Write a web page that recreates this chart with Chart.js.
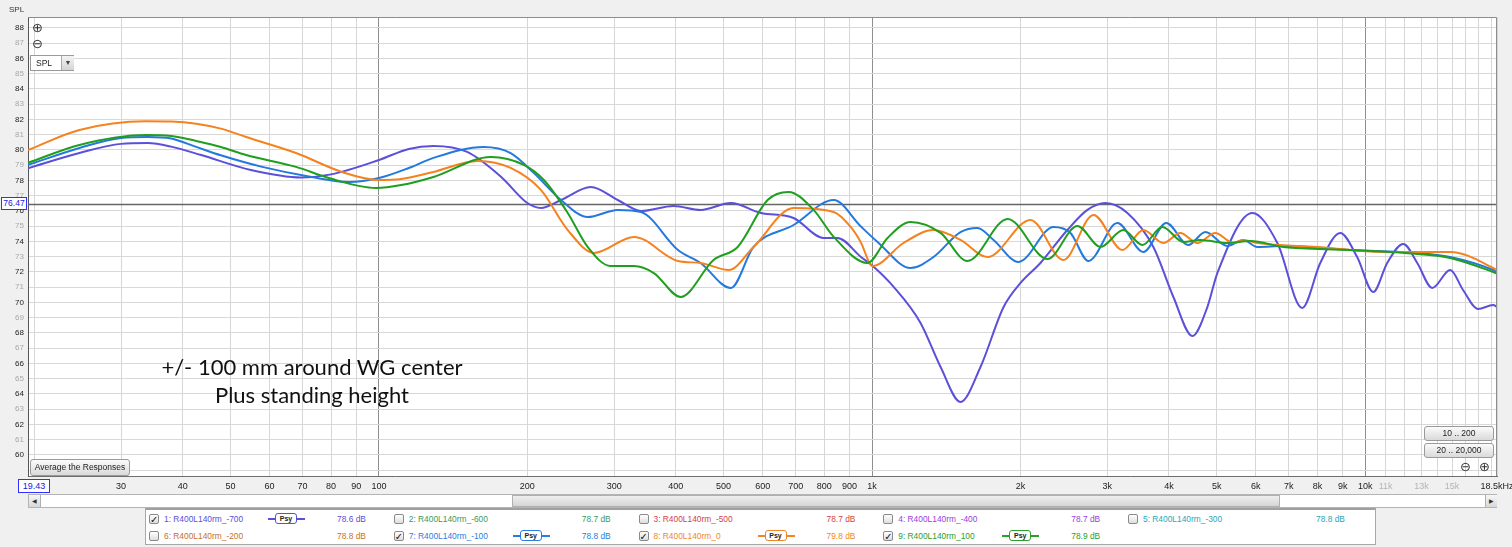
<!DOCTYPE html>
<html>
<head>
<meta charset="utf-8">
<script src="https://cdn.jsdelivr.net/npm/chart.js@4.4.1/dist/chart.umd.min.js"></script>
<style>
  html, body { margin: 0; padding: 0; background: #f0f0f0; }
  #wrap { position: relative; width: 1512px; height: 547px; overflow: hidden;
          font-family: "Liberation Sans", Arial, sans-serif; }
  #chart { position: absolute; left: 0; top: 0; }
  .abs { position: absolute; white-space: nowrap; }
  .btn { position: absolute; box-sizing: border-box; border: 1px solid #9a9a9a; border-radius: 3px;
         background: linear-gradient(#fbfbfb, #dadada); color: #222; font-size: 8.5px;
         text-align: center; }
  .icon { position: absolute; font-family: "DejaVu Sans", sans-serif; font-size: 13px; color: #333; line-height: 12px; }
  .valbox { position: absolute; box-sizing: border-box; border: 1px solid #3030ff; background: #fff;
            color: #2020e0; font-size: 8.5px; text-align: center; }
  .note { position: absolute; width: 340px; text-align: center; font-family: Lato, "Open Sans", sans-serif;
          font-size: 22px; color: #111; }
  #legend { position: absolute; left: 145px; top: 508px; width: 1231px; height: 37px; box-sizing: border-box;
            background: #fff; border: 1px solid #a8a8a8; border-top: 2px solid #a0a0a0; }
  .chk { position: absolute; width: 10px; height: 10px; box-sizing: border-box; border: 1px solid #8a8a8a;
         border-radius: 2px; background: linear-gradient(#ffffff, #dedede); font-size: 10px; line-height: 9px;
         text-align: center; color: #111; font-family: "DejaVu Sans", sans-serif; }
  .lt { position: absolute; font-size: 8.4px; line-height: 10px; }
  .psy { position: absolute; height: 11px; width: 37px; }
  .psy .ln { position: absolute; left: 0; right: 0; top: 5px; height: 1.5px; }
  .psy .bx { position: absolute; left: 7px; width: 20px; top: 0; height: 9px; border: 1.5px solid; border-radius: 3px;
             background: #fff; font-size: 7px; line-height: 9px; text-align: center; color: #222; font-weight: bold; }
</style>
</head>
<body>
<div id="wrap">
  <canvas id="chart" width="1512" height="547"></canvas>

  <div class="abs" style="left:9px; top:5px; font-size:8px; color:#333;">SPL</div>
  <div class="icon" style="left:32px; top:22px;">⊕</div>
  <div class="icon" style="left:32px; top:38px;">⊖</div>
  <div class="abs" style="left:30px; top:55px; width:44px; height:16px; box-sizing:border-box; border:1px solid #9a9a9a; background:#fff;">
    <div class="abs" style="left:5px; top:2px; font-size:8.5px; color:#222;">SPL</div>
    <div class="abs" style="left:30px; top:0; width:12px; height:14px; background:linear-gradient(#f4f4f4,#d4d4d4); border-left:1px solid #aaa; font-size:7px; text-align:center; line-height:14px; color:#444;">▼</div>
  </div>

  <div class="valbox" style="left:1px; top:197px; width:26px; height:13px; line-height:11px;">76.47</div>
  <div class="valbox" style="left:18px; top:479px; width:32px; height:14px; line-height:12px; font-size:9px;">19.43</div>

  <div class="note" style="left:142px; top:353px;">+/- 100 mm around WG center</div>
  <div class="note" style="left:142px; top:381px;">Plus standing height</div>

  <div class="btn" style="left:30px; top:459px; width:100px; height:17px; line-height:15px;">Average the Responses</div>
  <div class="btn" style="left:1424px; top:426px; width:70px; height:15px; line-height:13px;">10 .. 200</div>
  <div class="btn" style="left:1424px; top:443px; width:70px; height:15px; line-height:13px;">20 .. 20,000</div>
  <div class="icon" style="left:1460px; top:461px;">⊖</div>
  <div class="icon" style="left:1479px; top:461px;">⊕</div>

  <div class="abs" style="left:28px; top:494px; width:1469px; height:14px; box-sizing:border-box; border:1px solid #b4b4b4; background:#fff;"></div>
  <div class="abs" style="left:29px; top:495px; width:11px; height:12px; background:linear-gradient(#f6f6f6,#d8d8d8); border-right:1px solid #b0b0b0; font-size:6px; line-height:12px; text-align:center; color:#333;">◀</div>
  <div class="abs" style="left:512px; top:495px; width:768px; height:12px; box-sizing:border-box; background:linear-gradient(#eeeeee,#d6d6d6); border:1px solid #b0b0b0;"></div>
  <div class="abs" style="left:1485px; top:495px; width:11px; height:12px; background:linear-gradient(#f6f6f6,#d8d8d8); border-left:1px solid #b0b0b0; font-size:6px; line-height:12px; text-align:center; color:#333;">▶</div>

  <div id="legend"></div>
</div>

<script>
'use strict';

// axis ranges (REW view)
const freqMin = 19.43;
const freqMax = 18500;
const splMin = 58.62;
const splMax = 88.72;
const cursorLevel = 76.47;

// x grid lines and labels
const freqGrid = [20, 30, 40, 50, 60, 70, 80, 90, 100, 200, 300, 400, 500, 600, 700, 800, 900,
  1000, 2000, 3000, 4000, 5000, 6000, 7000, 8000, 9000, 10000, 11000, 12000, 13000, 14000,
  15000, 16000, 17000, 18000, 18500];
const freqLabelValues = [30, 40, 50, 60, 70, 80, 90, 100, 200, 300, 400, 500, 600, 700, 800, 900,
  1000, 2000, 3000, 4000, 5000, 6000, 7000, 8000, 9000, 10000, 11000, 13000, 15000, 18500];
const freqLabelTexts = ['30', '40', '50', '60', '70', '80', '90', '100', '200', '300', '400', '500',
  '600', '700', '800', '900', '1k', '2k', '3k', '4k', '5k', '6k', '7k', '8k', '9k', '10k', '11k',
  '13k', '15k', '18.5kHz'];
const freqFaintLabels = [11000, 13000, 15000];
const freqDecades = [100, 1000, 10000];

// 1: R400L140rm_-700
const purpleFreq = [19.43, 24.7, 30, 34, 37.9, 43.6, 55, 69.5, 80, 100, 115, 129, 151, 177, 200, 213, 234,
  269, 305, 340, 396, 449, 517, 595, 693, 797, 851, 948, 1002, 1106, 1254, 1377, 1511, 1659, 1848,
  2000, 2195, 2489, 2733, 2973, 3294, 3719, 4083, 4462, 4785, 5013, 5902, 6634, 7452, 8106, 8897,
  9630, 10380, 11080, 11940, 12750, 13670, 14870, 15790, 16940, 18170, 18500];
const purpleSpl = [78.8, 79.8, 80.4, 80.45, 80.22, 79.67, 78.69, 78.2, 78.4, 79.34, 80.07, 80.26, 79.87,
  78.23, 76.52, 76.2, 76.72, 77.57, 76.72, 76.0, 76.33, 76.07, 76.52, 75.87, 75.54, 74.23, 74.23,
  73.0, 72.4, 71.02, 68.66, 65.77, 63.48, 65.77, 69.7, 71.28, 72.59, 74.75, 76.07, 76.52, 75.87,
  73.64, 70.36, 67.8, 69.7, 71.93, 75.87, 73.9, 69.64, 72.59, 74.56, 72.98, 70.69, 72.59, 73.84,
  72.59, 70.95, 72.13, 70.82, 69.57, 69.84, 69.7];

// 7: R400L140rm_-100
const blueFreq = [19.43, 24.7, 30, 34, 37.9, 42.6, 47.8, 58, 73, 87, 100, 115, 129, 163, 185, 206, 234, 265, 305,
  340, 404, 449, 517, 575, 693, 836, 948, 1026, 1197, 1332, 1511, 1636, 1763, 1981, 2333, 2525, 2746,
  3144, 3549, 3950, 4379, 4740, 5252, 5660, 6042, 6822, 9324, 12750, 14870, 18170, 18500];
const blueSpl = [79.02, 80.13, 80.79, 80.85, 80.75, 80.2, 79.65, 78.89, 78.23, 77.9, 78.16, 78.82, 79.48, 80.2,
  79.8, 78.5, 76.72, 75.6, 76.07, 75.93, 73.44, 72.59, 70.95, 73.64, 75.08, 76.72, 75.0, 73.97,
  72.26, 72.98, 74.62, 74.89, 74.1, 72.66, 74.95, 74.56, 72.72, 75.21, 73.31, 75.21, 73.77, 74.62,
  73.7, 74.1, 73.64, 73.7, 73.44, 73.25, 72.98, 72.13, 72.0];

// 8: R400L140rm_0
const orangeFreq = [19.43, 24.7, 33.7, 37.9, 42.6, 47.8, 53.8, 67.9, 84.1, 100, 111, 129, 158.7, 185, 213, 241.5,
  273, 329, 404, 449, 512, 575, 693, 836, 905, 948, 1002, 1158, 1332, 1511, 1714, 2095, 2443, 2811,
  3218, 3549, 3896, 4218, 4566, 4966, 5402, 5660, 6042, 7994, 10880, 14870, 18170, 18500];
const orangeSpl = [80.0, 81.31, 81.88, 81.86, 81.72, 81.4, 80.85, 79.8, 78.56, 78.03, 78.1, 78.56, 79.28, 78.82,
  77.38, 74.75, 73.25, 74.3, 72.72, 72.59, 72.13, 73.64, 76.2, 75.93, 74.95, 73.97, 72.39, 73.9,
  74.75, 74.1, 72.98, 75.41, 72.79, 75.74, 73.44, 74.75, 73.9, 74.56, 73.9, 74.56, 73.9, 74.1, 73.9,
  73.64, 73.31, 73.31, 72.26, 72.1];

// 9: R400L140rm_100
const greenFreq = [19.43, 24.7, 33.7, 37.9, 42.6, 47.8, 53.8, 67.9, 79.2, 98.6, 111, 129, 168.7, 196.7, 216,
  241.5, 265, 295, 329, 361, 409, 477, 534, 614, 677, 761, 836, 979, 1075, 1197, 1377, 1561, 1883,
  2268, 2609, 2904, 3233, 3533, 3878, 4278, 4631, 5252, 5848, 6822, 9324, 12750, 14870, 18170, 18500];
const greenSpl = [79.15, 80.33, 80.98, 80.92, 80.59, 80.2, 79.67, 78.89, 78.16, 77.51, 77.7, 78.23, 79.54, 79.02,
  78.03, 75.87, 73.64, 72.39, 72.39, 71.93, 70.36, 72.79, 73.64, 76.72, 77.25, 76.07, 74.3, 72.59,
  74.23, 75.28, 74.56, 72.72, 75.48, 72.85, 75.02, 73.64, 74.75, 73.77, 74.95, 73.97, 74.1, 73.9,
  74.03, 73.64, 73.44, 73.18, 72.92, 72.0, 71.9];

// legend panel entries
const legendNames = ['1: R400L140rm_-700', '2: R400L140rm_-600', '3: R400L140rm_-500',
  '4: R400L140rm_-400', '5: R400L140rm_-300', '6: R400L140rm_-200', '7: R400L140rm_-100',
  '8: R400L140rm_0', '9: R400L140rm_100'];
const legendLevels = ['78.6 dB', '78.7 dB', '78.7 dB', '78.7 dB', '78.8 dB', '78.8 dB', '78.8 dB',
  '79.8 dB', '78.9 dB'];
const legendColors = ['#5b4fd9', '#3a9a5a', '#d24444', '#9b3de0', '#2aa6b8', '#c8701e', '#2a7de0',
  '#f0862a', '#2aa02a'];
const legendChecked = [true, false, false, false, false, false, true, true, true];

const purple = '#5b50da';
const blue = '#2479dc';
const orange = '#f5821e';
const green = '#1f9e1f';

function toPoints(freqs, spls) {
  return freqs.map((f, i) => ({ x: f, y: spls[i] }));
}

function makeSet(label, freqs, spls, color) {
  return {
    label: label,
    data: toPoints(freqs, spls),
    borderColor: color,
    borderWidth: 2,
    pointRadius: 0,
    fill: false,
    cubicInterpolationMode: 'monotone',
  };
}

// legend panel
const legendBox = document.getElementById('legend');
legendNames.forEach((name, i) => {
  const row = i < 5 ? 0 : 1;
  const col = i < 5 ? i : i - 5;
  const left = 149 + col * 244.75 - 146;
  const top = row === 0 ? 4 : 21;
  const chk = document.createElement('div');
  chk.className = 'chk';
  chk.style.left = left + 'px';
  chk.style.top = top + 'px';
  chk.textContent = legendChecked[i] ? '✓' : '';
  legendBox.appendChild(chk);

  const txt = document.createElement('div');
  txt.className = 'lt';
  txt.style.left = (left + 15) + 'px';
  txt.style.top = top + 'px';
  txt.style.color = legendColors[i];
  txt.textContent = name;
  legendBox.appendChild(txt);

  const lvl = document.createElement('div');
  lvl.className = 'lt';
  lvl.style.left = (left + 188) + 'px';
  lvl.style.top = top + 'px';
  lvl.style.color = legendColors[i];
  lvl.textContent = legendLevels[i];
  legendBox.appendChild(lvl);

  if (legendChecked[i]) {
    const psy = document.createElement('div');
    psy.className = 'psy';
    psy.style.left = (left + 119) + 'px';
    psy.style.top = (top - 1) + 'px';
    psy.innerHTML = '<div class="ln" style="background:' + legendColors[i] + '"></div>' +
      '<div class="bx" style="border-color:' + legendColors[i] + '">Psy</div>';
    legendBox.appendChild(psy);
  }
});

// white plot area, cursor line and frame
const framePlugin = {
  id: 'frame',
  beforeDraw(chart) {
    const a = chart.chartArea;
    const ctx = chart.ctx;
    ctx.save();
    ctx.fillStyle = '#ffffff';
    ctx.fillRect(a.left, a.top, a.right - a.left, a.bottom - a.top);
    ctx.restore();
  },
  beforeDatasetsDraw(chart) {
    const a = chart.chartArea;
    const ctx = chart.ctx;
    const y = Math.round(chart.scales.y.getPixelForValue(cursorLevel)) + 0.5;
    ctx.save();
    ctx.strokeStyle = '#666666';
    ctx.lineWidth = 1.5;
    ctx.beginPath();
    ctx.moveTo(a.left, y);
    ctx.lineTo(a.right, y);
    ctx.stroke();
    ctx.restore();
  },
  afterDraw(chart) {
    const a = chart.chartArea;
    const ctx = chart.ctx;
    ctx.save();
    ctx.strokeStyle = '#8c8c8c';
    ctx.lineWidth = 1;
    ctx.beginPath();
    ctx.moveTo(a.left, a.top + 0.5);
    ctx.lineTo(a.right - 0.5, a.top + 0.5);
    ctx.lineTo(a.right - 0.5, a.bottom);
    ctx.stroke();
    ctx.restore();
  },
};

const ctx = document.getElementById('chart').getContext('2d');
new Chart(ctx, {
  type: 'line',
  data: {
    datasets: [
      makeSet('9: R400L140rm_100', greenFreq, greenSpl, green),
      makeSet('8: R400L140rm_0', orangeFreq, orangeSpl, orange),
      makeSet('7: R400L140rm_-100', blueFreq, blueSpl, blue),
      makeSet('1: R400L140rm_-700', purpleFreq, purpleSpl, purple),
    ],
  },
  options: {
    responsive: false,
    animation: false,
    devicePixelRatio: 1,
    events: [],
    layout: { padding: { left: 0, top: 17, right: 15, bottom: 51 } },
    plugins: { legend: { display: false }, tooltip: { enabled: false } },
    scales: {
      x: {
        type: 'logarithmic',
        min: freqMin,
        max: freqMax,
        afterBuildTicks: (scale) => {
          scale.ticks = freqGrid.map((v) => ({ value: v }));
        },
        afterFit: (scale) => {
          scale.height = 20;
          scale.paddingLeft = 0;
          scale.paddingRight = 0;
        },
        border: { display: true, color: '#6e6e6e', width: 1 },
        grid: {
          drawTicks: false,
          color: (c) => (freqDecades.includes(c.tick.value) ? '#8e8e8e' : '#d6d6d6'),
        },
        ticks: {
          autoSkip: false,
          maxRotation: 0,
          padding: 5,
          font: { family: 'Liberation Sans', size: 9 },
          color: (c) => (freqFaintLabels.includes(c.tick.value) ? '#b4b4b4' : '#222222'),
          callback: (value) => {
            const i = freqLabelValues.indexOf(value);
            return i >= 0 ? freqLabelTexts[i] : '';
          },
        },
      },
      y: {
        type: 'linear',
        min: splMin,
        max: splMax,
        afterBuildTicks: (scale) => {
          const ticks = [];
          for (let v = 59; v <= 88.5; v += 0.5) ticks.push({ value: v });
          scale.ticks = ticks;
        },
        afterFit: (scale) => {
          scale.width = 28;
          scale.paddingTop = 0;
          scale.paddingBottom = 0;
        },
        border: { display: true, color: '#555555', width: 1 },
        grid: {
          drawTicks: false,
          color: (c) => (Number.isInteger(c.tick.value) ? '#d8d8d8' : '#eeeeee'),
        },
        ticks: {
          padding: 4,
          font: { family: 'Liberation Sans', size: 8 },
          color: (c) => (c.tick.value % 2 === 0 ? '#222222' : '#a8a8a8'),
          callback: (value) => (Number.isInteger(value) && value >= 60 ? String(value) : ''),
        },
      },
    },
  },
  plugins: [framePlugin],
});
</script>
</body>
</html>
